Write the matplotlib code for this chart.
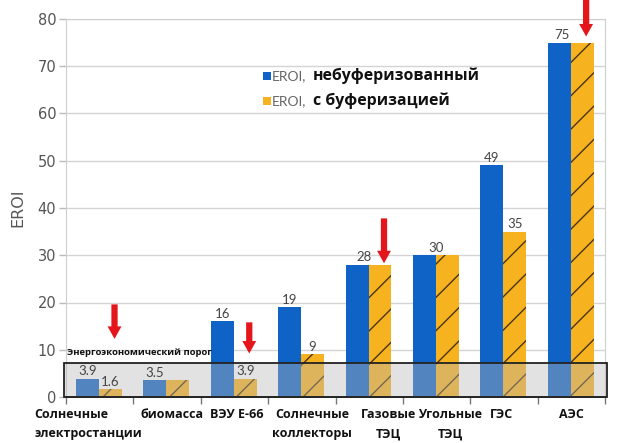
import matplotlib
matplotlib.use("Agg")
import matplotlib.pyplot as plt
import numpy as np
from matplotlib.transforms import blended_transform_factory
from matplotlib.patches import Rectangle

categories = ["Солнечные\nэлектростанции", "биомасса", "ВЭУ Е-66", "Солнечные\nколлекторы",
              "Газовые\nТЭЦ", "Угольные\nТЭЦ", "ГЭС", "АЭС"]
unbuffered = [3.9, 3.5, 16, 19, 28, 30, 49, 75]
buffered = [1.6, 3.5, 3.9, 9, 28, 30, 35, 75]
# labels shown: (group index, series 0=blue/1=orange, text)
value_labels = [(0, 0, "3.9"), (0, 1, "1.6"), (1, 0, "3.5"), (2, 0, "16"), (2, 1, "3.9"),
                (3, 0, "19"), (3, 1, "9"), (4, 0, "28"), (5, 0, "30"), (6, 0, "49"),
                (6, 1, "35"), (7, 0, "75")]
threshold = 7.3
threshold_label = "Энергоэкономический порог"
arrow_groups = [0, 2, 4, 7]
arrow_tips = [12.3, 9.2, 28.3, 76.3]
arrow_tails = [19.6, 15.8, 37.8, 84.5]
legend_prefix = "EROI,"
legend_labels = ["небуферизованный", "с буферизацией"]
ylabel = "EROI"

BLUE = "#0f62c6"
ORANGE = "#f7b31f"
GRAY_TXT = "#555555"

plt.rcParams['hatch.linewidth'] = 1.0
fig = plt.figure(figsize=(6.2, 4.43), dpi=100)
ax = fig.add_axes([66/620, 1-397/443, (605-66)/620, (397-19)/443])

x = np.arange(len(categories))
w = 0.34
ax.bar(x - 0.18, unbuffered, w, color=BLUE, zorder=2)
ax.bar(x + 0.16, buffered, w, color=ORANGE, hatch="/", edgecolor="#4a3510", linewidth=0, zorder=2)

ax.set_xlim(-0.5, 7.5)
ax.set_ylim(0, 80)
ax.set_yticks(np.arange(0, 81, 10))
ax.grid(axis="y", color="#d4d4d4", linewidth=1.0, zorder=0)
ax.set_axisbelow(True)
ax.set_xticks(np.arange(-0.5, 8.0, 1.0))
ax.set_xticklabels([])
ax.tick_params(axis="x", length=5, color="#777777", width=1)
ax.tick_params(axis="y", length=5, color="#bbbbbb", width=1, labelsize=10.5, labelcolor=GRAY_TXT, pad=2)
for s in ["left", "right", "top"]:
    ax.spines[s].set_color("#cfcfcf")
ax.spines["bottom"].set_color("#333333")
ax.spines["bottom"].set_linewidth(1.4)
ax.set_ylabel(ylabel, fontsize=11.5, color=GRAY_TXT, labelpad=9)

# value labels
for g, s, t in value_labels:
    xv = g - 0.18 if s == 0 else g + 0.16
    yv = unbuffered[g] if s == 0 else buffered[g]
    if t in ("28",):
        xv += 0.1
    if t in ("30",):
        xv += 0.17
    if t in ("75",):
        xv += 0.04
    ax.text(xv, yv + 0.3, t, ha="center", va="bottom", fontsize=9.5, color="#444444",
            family="Lato", zorder=5)

# threshold box
tr = blended_transform_factory(ax.transAxes, ax.transData)
ax.add_patch(Rectangle((-0.004, 0), 1.008, threshold, transform=tr, facecolor="#b8b8b8",
                       alpha=0.4, edgecolor="none", zorder=3, clip_on=False))
ax.add_patch(Rectangle((-0.004, 0), 1.008, threshold, transform=tr, facecolor="none",
                       edgecolor="#222222", linewidth=1.3, zorder=4, clip_on=False))
ax.text(-0.48, threshold + 1.2, threshold_label, fontsize=6.8, fontweight="bold",
        family="Open Sans", color="#111111", va="bottom", ha="left", zorder=5)

# arrows
for g, tip, tail in zip(arrow_groups, arrow_tips, arrow_tails):
    ax.annotate("", xy=(g + 0.22, tip), xytext=(g + 0.22, tail),
                arrowprops=dict(arrowstyle="simple,head_length=0.9,head_width=1.0,tail_width=0.45",
                                color="#e4161b", lw=0, shrinkA=0, shrinkB=0),
                annotation_clip=False, zorder=6)

# category labels
offsets = [-0.18, 0.08, 0.03, 0.15, 0.28, 0.2, -0.03, 0.0]
for i, (c, o) in enumerate(zip(categories, offsets)):
    if i == 0:
        ax.text(-0.97, -2.3, c, ha="left", va="top", fontsize=9.0, fontweight="bold",
                family="Open Sans", color="#111111", linespacing=1.65, clip_on=False)
    else:
        ax.text(i + o, -2.3, c, ha="center", va="top", fontsize=9.0, fontweight="bold",
                family="Open Sans", color="#111111", linespacing=1.65, clip_on=False)

# legend (manual)
for k, (col, lab) in enumerate(zip([BLUE, ORANGE], legend_labels)):
    yy = 1 - (76 + 25 * k) / 443
    fig.patches.append(Rectangle((263/620, yy - 4/443), 8/620, 8/443, transform=fig.transFigure,
                                 facecolor=col, edgecolor="none"))
    fig.text(272/620, yy, legend_prefix, fontsize=10, color="#666666", va="center", ha="left",
             family="Lato")
    fig.text(313/620, yy, lab, fontsize=11.4, color="#111111", fontweight="bold",
             va="center", ha="left", family="Open Sans")

fig.savefig("out.png", dpi=100)
